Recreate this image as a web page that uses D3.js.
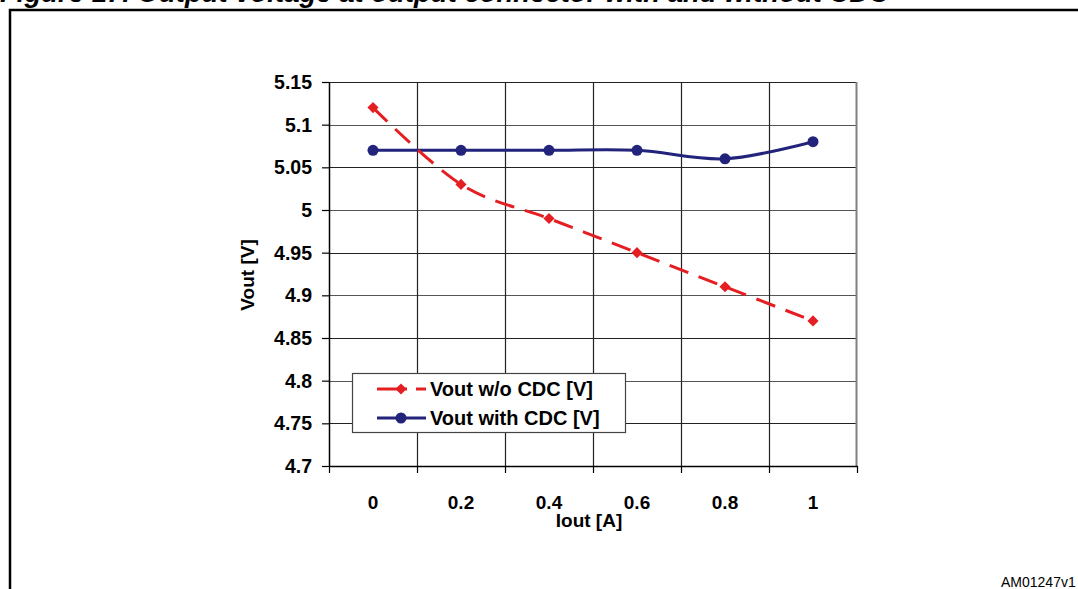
<!DOCTYPE html>
<html><head><meta charset="utf-8">
<script src="https://cdn.jsdelivr.net/npm/d3@7"></script>
<style>
html,body{margin:0;padding:0;background:#fff;overflow:hidden}
text{font-family:"Liberation Sans",Arial,sans-serif}
</style></head>
<body>
<svg id="chart" width="1078" height="589"></svg>
<script>
// ---- data ----
const categories = ["0", "0.2", "0.4", "0.6", "0.8", "1"];
const voutWithoutCDC = [5.12, 5.03, 4.99, 4.95, 4.91, 4.87];
const voutWithCDC = [5.07, 5.07, 5.07, 5.07, 5.06, 5.08];
const yTicks = [4.7, 4.75, 4.8, 4.85, 4.9, 4.95, 5, 5.05, 5.1, 5.15];
const seriesNames = ["Vout w/o CDC [V]", "Vout with CDC [V]"];
const titleText = "Figure 17. Output voltage at output connector with and without CDC";
const yLabel = "Vout [V]";
const xLabel = "Iout [A]";
const figId = "AM01247v1";

const svg = d3.select("#chart");
const plot = {left: 329, right: 857, top: 82, bottom: 466};

const x = d3.scaleBand().domain(categories).range([plot.left, plot.right]).padding(0);
const y = d3.scaleLinear().domain([4.7, 5.15]).range([plot.bottom, plot.top]);

// title (cropped at top, as in the reference)
svg.append("text").attr("x", 0).attr("y", 2)
  .attr("font-size", 27.5).attr("font-weight", "bold").attr("font-style", "italic")
  .text(titleText);
// frame
svg.append("path").attr("d", "M10,589 V10 H1078").attr("fill", "none")
  .attr("stroke", "#000").attr("stroke-width", 2.5);
// fig id
svg.append("text").attr("x", 1001).attr("y", 587).attr("font-size", 14).text(figId);

// horizontal grid
svg.append("g").selectAll("line").data(yTicks).join("line")
  .attr("x1", plot.left).attr("x2", plot.right)
  .attr("y1", d => Math.round(y(d)) + 0.5).attr("y2", d => Math.round(y(d)) + 0.5)
  .attr("stroke", (d, i) => i % 2 ? "#222" : "#555").attr("stroke-width", 1.2);
// vertical grid at band boundaries
const bounds = categories.slice(1).map(c => x(c));
svg.append("g").selectAll("line").data(bounds).join("line")
  .attr("x1", d => Math.round(d) + 0.5).attr("x2", d => Math.round(d) + 0.5)
  .attr("y1", plot.top).attr("y2", plot.bottom)
  .attr("stroke", "#222").attr("stroke-width", 1.2);
// right border
svg.append("line").attr("x1", plot.right - 0.5).attr("x2", plot.right - 0.5)
  .attr("y1", plot.top).attr("y2", plot.bottom).attr("stroke", "#808080").attr("stroke-width", 2);

// y axis
const yAxis = svg.append("g").attr("transform", `translate(${plot.left},0)`)
  .call(d3.axisLeft(y).tickValues(yTicks).tickSize(7).tickSizeOuter(0).tickPadding(10).tickFormat(d3.format("")));
yAxis.select(".domain").attr("stroke", "#000").attr("stroke-width", 1.5);
yAxis.selectAll(".tick line").attr("stroke", "#000").attr("stroke-width", 1.2);
yAxis.selectAll(".tick text").attr("font-size", 19.5).attr("font-weight", "bold")
  .attr("fill", "#000").attr("font-family", "Liberation Sans, Arial, sans-serif").attr("dy", "0.33em");

// x axis
const xAxis = svg.append("g").attr("transform", `translate(0,${plot.bottom})`)
  .call(d3.axisBottom(x).tickSize(0).tickPadding(30));
xAxis.select(".domain").attr("stroke", "#000").attr("stroke-width", 1.5);
xAxis.selectAll(".tick text").attr("font-size", 19).attr("font-weight", "bold")
  .attr("fill", "#000").attr("font-family", "Liberation Sans, Arial, sans-serif");
// x tick marks at band boundaries
svg.append("g").selectAll("line").data(categories.map(c => x(c)).concat([plot.right])).join("line")
  .attr("x1", d => Math.round(d) + 0.5).attr("x2", d => Math.round(d) + 0.5)
  .attr("y1", plot.bottom).attr("y2", plot.bottom + 7)
  .attr("stroke", "#000").attr("stroke-width", 1.2);

// axis labels
svg.append("text").attr("x", 589).attr("y", 527).attr("text-anchor", "middle")
  .attr("font-size", 19).attr("font-weight", "bold").text(xLabel);
svg.append("text").attr("transform", "translate(254,275) rotate(-90)").attr("text-anchor", "middle")
  .attr("font-size", 19).attr("font-weight", "bold").text(yLabel);

// lines
const cx = (d, i) => x(categories[i]) + x.bandwidth() / 2;
const line = d3.line().x(cx).y(d => y(d)).curve(d3.curveCardinal.tension(0));
const RED = "#e41e22", BLUE = "#22237a";

svg.append("path").datum(voutWithCDC).attr("d", line).attr("fill", "none")
  .attr("stroke", BLUE).attr("stroke-width", 3);
svg.append("path").datum(voutWithoutCDC).attr("d", line).attr("fill", "none")
  .attr("stroke", RED).attr("stroke-width", 3).attr("stroke-dasharray", "20,11");

const diamond = d3.symbol().type(d3.symbolSquare).size(62);
svg.append("g").selectAll("path").data(voutWithoutCDC).join("path")
  .attr("d", diamond).attr("fill", RED)
  .attr("transform", (d, i) => `translate(${cx(d, i)},${y(d)}) rotate(45)`);
svg.append("g").selectAll("circle").data(voutWithCDC).join("circle")
  .attr("cx", cx).attr("cy", d => y(d)).attr("r", 5.5).attr("fill", BLUE);

// legend
const lg = svg.append("g");
lg.append("rect").attr("x", 352.5).attr("y", 373.5).attr("width", 273).attr("height", 59)
  .attr("fill", "#fff").attr("stroke", "#444").attr("stroke-width", 1.2);
const rows = [{name: seriesNames[0], color: RED, dash: true, y: 389},
              {name: seriesNames[1], color: BLUE, dash: false, y: 418}];
rows.forEach(r => {
  if (r.dash) {
    lg.append("line").attr("x1", 377).attr("x2", 426).attr("y1", r.y).attr("y2", r.y)
      .attr("stroke", r.color).attr("stroke-width", 3).attr("stroke-dasharray", "30,9");
    lg.append("path").attr("d", diamond).attr("fill", r.color).attr("transform", `translate(401,${r.y}) rotate(45)`);
  } else {
    lg.append("line").attr("x1", 377).attr("x2", 426).attr("y1", r.y).attr("y2", r.y)
      .attr("stroke", r.color).attr("stroke-width", 3);
    lg.append("circle").attr("cx", 401).attr("cy", r.y).attr("r", 5.5).attr("fill", r.color);
  }
  lg.append("text").attr("x", 430).attr("y", r.y + 7).attr("font-size", 20)
    .attr("font-weight", "bold").text(r.name);
});
</script>
</body></html>
